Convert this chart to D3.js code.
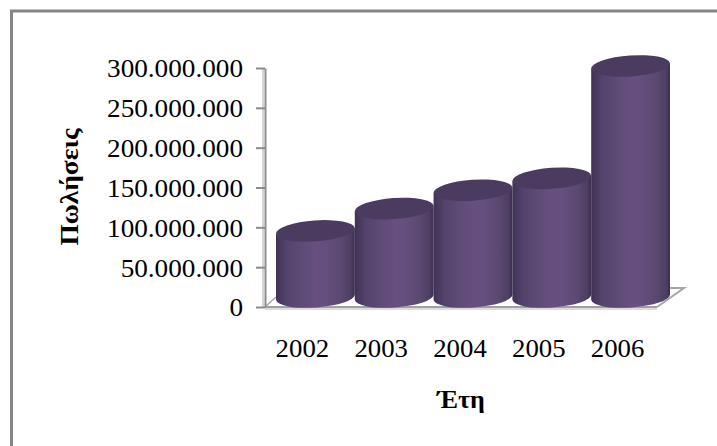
<!DOCTYPE html>
<html>
<head>
<meta charset="utf-8">
<script src="https://cdn.jsdelivr.net/npm/d3@7/dist/d3.min.js"></script>
<style>
html,body{margin:0;padding:0;background:#fff;overflow:hidden}
svg{display:block}
text{font-family:"Liberation Serif","Times New Roman",serif;fill:#000}
</style>
</head>
<body>
<svg id="c" width="717" height="446"></svg>
<script>
const years = ["2002","2003","2004","2005","2006"];
const sales = [83000000,111000000,134000000,149000000,290000000];
const yTicks = [0,50000000,100000000,150000000,200000000,250000000,300000000];
const xTitle = "Έτη";
const yTitle = "Πωλήσεις";

const svg = d3.select("#c");
const defs = svg.append("defs");
const grad = defs.append("linearGradient").attr("id","cyl").attr("x1",0).attr("x2",1).attr("y1",0).attr("y2",0);
[[0,"#3f3053"],[0.04,"#46375c"],[0.14,"#54436d"],[0.3,"#5c4a75"],[0.5,"#674f80"],[0.62,"#654f7e"],[0.82,"#5b4971"],[0.95,"#4e3e63"],[1,"#3a2d4c"]]
  .forEach(([o,c])=>grad.append("stop").attr("offset",o).attr("stop-color",c));

// frame
svg.append("path").attr("d","M717,11 H11.5 V446").attr("fill","none").attr("stroke","#868686").attr("stroke-width",3);

const y = d3.scaleLinear().domain([0,300000000]).range([307,68]);
const x = d3.scaleBand().domain(years).range([276,670]).padding(0);
const depth = 10, depthX = 11;
const left = 265, front = y(0);
const floorRight = 657, farRight = 684, farY = 288;

// wall + floor shadows (light)
svg.append("path").attr("d",`M263,${y(300000000)} V${front}`).attr("stroke","#d4d4d4").attr("stroke-width",2).attr("fill","none");
svg.append("path").attr("d",`M${left},${front+2} H${floorRight}`).attr("stroke","#dcdcdc").attr("stroke-width",2).attr("fill","none");
svg.append("path").attr("d",`M${floorRight},${front} L${farRight},${farY} H${farRight-14}`).attr("stroke","#a6a6a6").attr("stroke-width",2).attr("fill","none");
svg.append("path").attr("d",`M${left},${front} L${left+depthX},${front-depth}`).attr("stroke","#a6a6a6").attr("stroke-width",1.5).attr("fill","none");
svg.append("path").attr("d",`M${left},${front} H${floorRight}`).attr("stroke","#a0a0a0").attr("stroke-width",2).attr("fill","none");

// y axis
const fmt = d3.formatLocale({decimal:",",thousands:".",grouping:[3],currency:["","€"]}).format(",d");
const ax = svg.append("g").attr("transform",`translate(${left},0)`)
  .call(d3.axisLeft(y).tickValues(yTicks).tickFormat(fmt).tickSize(9).tickPadding(13).tickSizeOuter(0));
ax.select(".domain").attr("stroke","#8c8c8c").attr("stroke-width",2);
ax.selectAll(".tick line").attr("stroke","#8c8c8c").attr("stroke-width",2);
ax.selectAll(".tick text").attr("font-size",26).attr("font-family","Liberation Serif").attr("fill","#000").attr("dy","0.34em")
  .each(function(){const w=this.getComputedTextLength();d3.select(this).attr("textLength",w*1.046).attr("lengthAdjust","spacingAndGlyphs");});

// cylinders
const ry = 10.5, tilt = -4, sl = 2.8;
const base = front - depth;
const g = svg.append("g");
years.forEach((yr,i)=>{
  const l = x(yr), r = l + x.bandwidth(), rx = (r-l)/2, cx=(l+r)/2;
  const top = y(sales[i]) - depth;
  g.append("path")
    .attr("d",`M${l},${top+sl} L${l},${base+sl} A${rx},${ry} ${tilt} 0 0 ${r},${base-sl} L${r},${top-sl} Z`)
    .attr("fill","url(#cyl)");
  g.append("ellipse").attr("cx",0).attr("cy",0).attr("rx",rx).attr("ry",ry)
    .attr("transform",`translate(${cx},${top}) rotate(${tilt})`)
    .attr("fill","#4b3b60");
});

// x labels
svg.append("g").selectAll("text").data(years).join("text")
  .attr("x",d=>x(d)+x.bandwidth()/2-13).attr("y",357)
  .attr("text-anchor","middle").attr("font-size",26).text(d=>d)
  .each(function(){const w=this.getComputedTextLength();d3.select(this).attr("textLength",w*1.03).attr("lengthAdjust","spacingAndGlyphs");});

// titles
svg.append("text").attr("x",461).attr("y",408).attr("text-anchor","middle").attr("font-size",26).attr("font-weight","bold").text(xTitle);
svg.append("text").attr("transform","translate(78,187) rotate(-90)").attr("text-anchor","middle").attr("font-size",26).attr("font-weight","bold").text(yTitle)
  .each(function(){d3.select(this).attr("textLength",117).attr("lengthAdjust","spacingAndGlyphs");});
</script>
</body>
</html>
